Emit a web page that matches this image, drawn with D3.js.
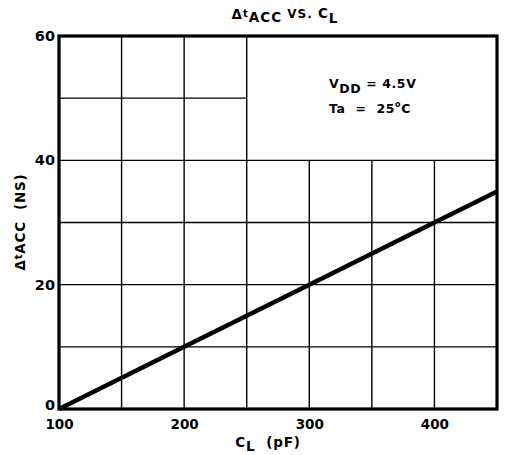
<!DOCTYPE html>
<html>
<head>
<meta charset="utf-8">
<script src="https://cdn.jsdelivr.net/npm/d3@7"></script>
<style>
  html, body { margin: 0; padding: 0; background: #fff; }
  svg { display: block; }
  text { font-family: "DejaVu Sans", sans-serif; font-weight: bold; fill: #000; }
</style>
</head>
<body>
<svg id="chart" width="506" height="455"></svg>
<script>
// Load capacitance (pF) and the matching access-time increase (ns)
const loadCap = [100, 200, 300, 400, 450];
const deltaTacc = [0, 10, 20, 30, 35];

const xTicks = [100, 200, 300, 400];
const yTicks = [0, 20, 40, 60];

// Grid divisions
const xGrid = [150, 200, 250, 300, 350, 400];
const yGrid = [10, 20, 30, 40, 50];

const W = 506, H = 455;
const m = { left: 59, right: 9, top: 36, bottom: 46 };

const svg = d3.select("#chart");

const x = d3.scaleLinear().domain([100, 450]).range([m.left, W - m.right]);
const y = d3.scaleLinear().domain([0, 60]).range([H - m.bottom, m.top]);

const g = svg.append("g");

// Grid: the top-right block is left open for the conditions note
const open = { x0: 250, y0: 40 };
g.selectAll("line.vgrid").data(xGrid).join("line")
  .attr("class", "vgrid")
  .attr("x1", d => x(d)).attr("x2", d => x(d))
  .attr("y1", y(0))
  .attr("y2", d => d > open.x0 ? y(open.y0) : y(60))
  .attr("stroke", "#000").attr("stroke-width", 1.4);

g.selectAll("line.hgrid").data(yGrid).join("line")
  .attr("class", "hgrid")
  .attr("x1", x(100))
  .attr("x2", d => d > open.y0 ? x(open.x0) : x(450))
  .attr("y1", d => y(d)).attr("y2", d => y(d))
  .attr("stroke", "#000").attr("stroke-width", 1.4);

// Frame
g.append("rect")
  .attr("x", x(100)).attr("y", y(60))
  .attr("width", x(450) - x(100)).attr("height", y(0) - y(60))
  .attr("fill", "none").attr("stroke", "#000").attr("stroke-width", 3.2);

// Data line
const line = d3.line().x((d, i) => x(loadCap[i])).y(d => y(d));
g.append("path")
  .datum(deltaTacc)
  .attr("d", line)
  .attr("fill", "none").attr("stroke", "#000")
  .attr("stroke-width", 4.5).attr("stroke-linecap", "butt");

// Axes (labels only)
const xAxis = d3.axisBottom(x).tickValues(xTicks).tickSize(0).tickPadding(10);
const gx = svg.append("g").attr("transform", `translate(0,${y(0)})`).call(xAxis);
gx.select(".domain").remove();
gx.selectAll("text").style("font-family", "DejaVu Sans").style("font-weight", "bold")
  .style("font-size", "13.5px").attr("fill", "#000");

const yAxis = d3.axisLeft(y).tickValues(yTicks).tickSize(0).tickPadding(4);
const gy = svg.append("g").attr("transform", `translate(${x(100)},0)`).call(yAxis);
gy.select(".domain").remove();
gy.selectAll("text").style("font-family", "DejaVu Sans").style("font-weight", "bold")
  .style("font-size", "14.5px").attr("fill", "#000");
// the zero label sits a little above the baseline corner
gy.selectAll(".tick").filter(d => d === 0).select("text").attr("y", -4);

// Title: Δt_ACC VS. C_L
const title = svg.append("text").attr("x", 285).attr("y", 19)
  .attr("text-anchor", "middle").style("font-size", "13.5px").style("letter-spacing", "1px");
title.append("tspan").text("Δ");
title.append("tspan").attr("dy", -2).style("font-size", "10px").text("t");
title.append("tspan").attr("dy", 5).text("ACC");
title.append("tspan").attr("dy", -4).style("font-size", "12px").text(" VS. ");
title.append("tspan").text("C");
title.append("tspan").attr("dy", 5).text("L");

// Conditions note
const n1 = svg.append("text").attr("x", 329).attr("y", 88).style("font-size", "12.5px").style("letter-spacing", "0.6px");
n1.append("tspan").text("V");
n1.append("tspan").attr("dy", 5).text("DD");
n1.append("tspan").attr("dy", -5).text(" = 4.5V");

const n2 = svg.append("text").attr("x", 329).attr("y", 113).style("font-size", "12.5px").style("letter-spacing", "0.6px")
  .style("white-space", "pre");
n2.append("tspan").text("Ta  =  25");
n2.append("tspan").attr("dy", -6).style("font-size", "8px").text("o");
n2.append("tspan").attr("dy", 6).text("C");

// X axis title: C_L (pF)
const xt = svg.append("text").attr("x", 268).attr("y", 447)
  .attr("text-anchor", "middle").style("font-size", "13.5px").style("letter-spacing", "0.8px")
  .style("white-space", "pre");
xt.append("tspan").text("C");
xt.append("tspan").attr("dy", 4).text("L");
xt.append("tspan").attr("dy", -4).text("  (pF)");

// Y axis title: Δt_ACC (NS)
const yt = svg.append("text")
  .attr("transform", `translate(25,222) rotate(-90)`)
  .attr("text-anchor", "middle").style("font-size", "13.5px").style("letter-spacing", "0.8px")
  .style("white-space", "pre");
yt.append("tspan").text("Δ");
yt.append("tspan").attr("dy", -3).style("font-size", "10px").text("t");
yt.append("tspan").attr("dy", 3).text("ACC  (NS)");
</script>
</body>
</html>
